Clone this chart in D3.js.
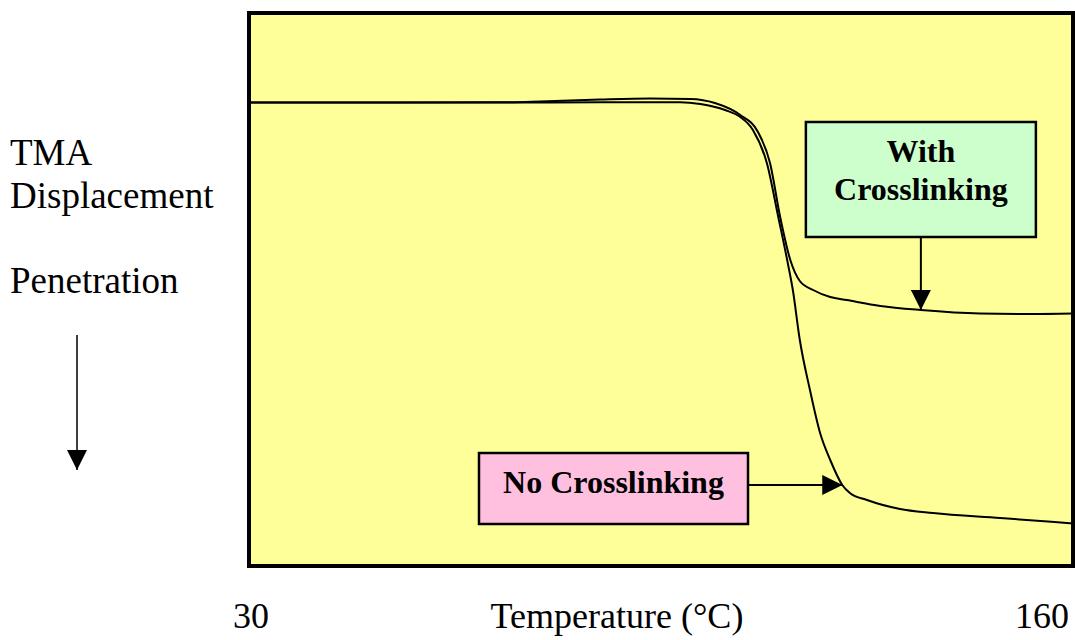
<!DOCTYPE html>
<html>
<head>
<meta charset="utf-8">
<script src="https://cdn.jsdelivr.net/npm/d3@7"></script>
<style>
  html, body { margin: 0; padding: 0; background: #fff; }
  svg { display: block; font-family: "Liberation Serif", "Times New Roman", serif; }
</style>
</head>
<body>
<svg id="chart" width="1075" height="640"></svg>
<script>
// TMA penetration curves: temperature (°C) vs. displacement (arbitrary units, larger = deeper)
const tempDomain = [30, 160];
const tickLabels = ["30", "160"];

const withTemp = [30, 53.8, 69.6, 75.9, 85.4, 93.3, 99.6, 103.5, 107.5, 110.3, 112.2, 113.8,
                  115.4, 116.9, 119.0, 121.7, 124.3, 129.6, 136.0, 145.3, 153.2, 160];
const withDisp = [16.18, 16.18, 16.15, 16.00, 15.64, 15.46, 15.55, 16.27, 18.44, 21.52, 27.12, 36.89,
                  44.67, 48.46, 50.09, 51.36, 51.90, 52.98, 53.71, 54.34, 54.43, 54.34];

const noTemp = [30, 53.8, 69.6, 85.4, 98.0, 101.2, 105.1, 107.5, 109.5, 111.7, 113.5, 115.0,
                115.8, 116.9, 118.5, 120.1, 121.7, 123.6, 124.8, 127.5, 132.7, 137.9, 148.5, 160];
const noDisp = [16.18, 16.18, 16.18, 16.15, 16.15, 16.46, 17.54, 18.81, 21.16, 27.12, 36.89, 45.21,
                50.09, 59.13, 68.17, 75.95, 80.83, 85.35, 86.80, 88.07, 89.69, 90.42, 91.32, 92.31];

// Label callouts: text lines and the point on each curve the arrow touches
const withLabel = ["With", "Crosslinking"];
const withTarget = [136.0, 53.71];
const noLabel = ["No Crosslinking"];
const noTarget = [123.6, 85.35];

const svg = d3.select("#chart");
const plot = { left: 249, right: 1073, top: 13, bottom: 566 };

const x = d3.scaleLinear().domain(tempDomain).range([plot.left, plot.right]);
const y = d3.scaleLinear().domain([0, 100]).range([plot.top, plot.bottom]);

// arrowhead marker
const defs = svg.append("defs");
defs.append("marker")
  .attr("id", "head")
  .attr("viewBox", "0 0 20 20")
  .attr("refX", 20).attr("refY", 10)
  .attr("markerWidth", 20).attr("markerHeight", 20)
  .attr("markerUnits", "userSpaceOnUse")
  .attr("orient", "auto")
  .append("path").attr("d", "M0,0 L20,10 L0,20 Z").attr("fill", "#000");

// plot background and frame
svg.append("rect")
  .attr("x", plot.left).attr("y", plot.top)
  .attr("width", plot.right - plot.left).attr("height", plot.bottom - plot.top)
  .attr("fill", "#FFFF99");

const line = d3.line()
  .x(d => x(d[0])).y(d => y(d[1]))
  .curve(d3.curveMonotoneX);

const series = [
  d3.zip(withTemp, withDisp),
  d3.zip(noTemp, noDisp)
];

svg.append("g").selectAll("path")
  .data(series).join("path")
  .attr("d", line)
  .attr("fill", "none")
  .attr("stroke", "#000")
  .attr("stroke-width", 2);

svg.append("rect")
  .attr("x", plot.left).attr("y", plot.top)
  .attr("width", plot.right - plot.left).attr("height", plot.bottom - plot.top)
  .attr("fill", "none").attr("stroke", "#000").attr("stroke-width", 4);

// "With Crosslinking" callout, arrow pointing down onto the curve
{
  const cx = x(withTarget[0]);
  const bw = 230, bh = 115, by = 122;
  svg.append("rect")
    .attr("x", cx - bw / 2).attr("y", by).attr("width", bw).attr("height", bh)
    .attr("fill", "#CCFFCC").attr("stroke", "#000").attr("stroke-width", 2.5);
  svg.append("g").selectAll("text").data(withLabel).join("text")
    .attr("x", cx).attr("y", (d, i) => 162 + i * 38)
    .attr("text-anchor", "middle")
    .attr("font-size", 32).attr("font-weight", "bold")
    .text(d => d);
  svg.append("line")
    .attr("x1", cx).attr("y1", by + bh)
    .attr("x2", cx).attr("y2", y(withTarget[1]))
    .attr("stroke", "#000").attr("stroke-width", 2)
    .attr("marker-end", "url(#head)");
}

// "No Crosslinking" callout, arrow pointing right onto the curve
{
  const ty = y(noTarget[1]);
  const bx = 479, bw = 269, bh = 71, by = 453;
  svg.append("rect")
    .attr("x", bx).attr("y", by).attr("width", bw).attr("height", bh)
    .attr("fill", "#FFC0E0").attr("stroke", "#000").attr("stroke-width", 2.5);
  svg.append("text")
    .attr("x", bx + bw / 2).attr("y", 493)
    .attr("text-anchor", "middle")
    .attr("font-size", 32).attr("font-weight", "bold")
    .text(noLabel[0]);
  svg.append("line")
    .attr("x1", bx + bw).attr("y1", ty)
    .attr("x2", x(noTarget[0])).attr("y2", ty)
    .attr("stroke", "#000").attr("stroke-width", 2)
    .attr("marker-end", "url(#head)");
}

// y-axis description with downward penetration arrow
const yLines = [["TMA", 165], ["Displacement", 208], ["Penetration", 293]];
svg.append("g").selectAll("text").data(yLines).join("text")
  .attr("x", 10).attr("y", d => d[1])
  .attr("font-size", 37)
  .text(d => d[0]);
svg.append("line")
  .attr("x1", 77).attr("y1", 335).attr("x2", 77).attr("y2", 470)
  .attr("stroke", "#000").attr("stroke-width", 1.5)
  .attr("marker-end", "url(#head)");

// x-axis end labels and title
svg.append("text")
  .attr("x", x(tempDomain[0]) + 2).attr("y", 628)
  .attr("text-anchor", "middle").attr("font-size", 36)
  .text(tickLabels[0]);
svg.append("text")
  .attr("x", x(tempDomain[1]) - 4).attr("y", 628)
  .attr("text-anchor", "end").attr("font-size", 36)
  .text(tickLabels[1]);
svg.append("text")
  .attr("x", 617).attr("y", 628)
  .attr("text-anchor", "middle").attr("font-size", 36)
  .text("Temperature (°C)");
</script>
</body>
</html>
